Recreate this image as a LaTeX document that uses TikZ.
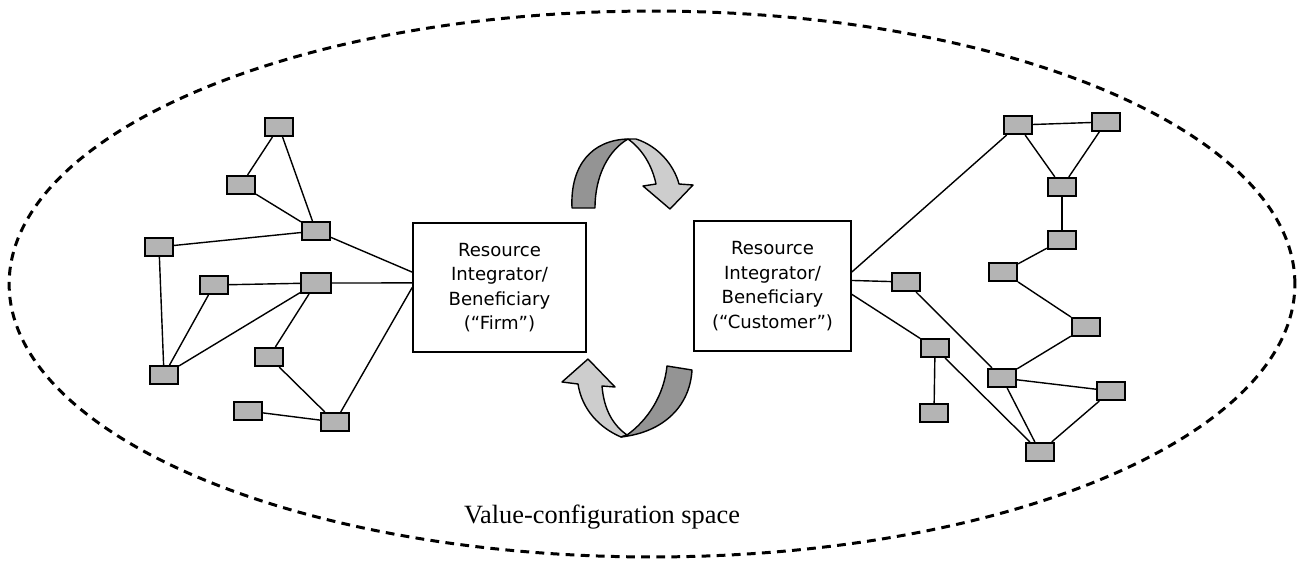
\documentclass[tikz,border=0pt]{standalone}
\usepackage{fontspec}
\setmainfont{Liberation Serif}
\newfontfamily\boxfont{DejaVu Sans}
\usetikzlibrary{positioning}
\definecolor{cellgray}{RGB}{180,180,180}
\definecolor{bandlight}{RGB}{205,205,205}
\definecolor{banddark}{RGB}{148,148,148}
\tikzset{
  cell/.style={rectangle, draw=black, fill=cellgray, line width=1.2pt,
    minimum width=0.56cm, minimum height=0.36cm, inner sep=0pt},
  actor/.style={rectangle, draw=black, line width=0.95pt, align=center,
    inner sep=0pt, font=\boxfont\fontsize{10.3}{13.9}\selectfont},
  link/.style={line width=0.8pt, color=black},
  band/.style={draw=black, line width=0.8pt, line join=round}
}

\begin{document}
\begin{tikzpicture}[x=0.02cm, y=-0.02cm]
\useasboundingbox (0,0) rectangle (1297,561);
\draw[dash pattern=on 5pt off 3.6pt, line width=1.7pt] (652,284) ellipse [x radius=12.86cm, y radius=5.46cm];

\node[actor, minimum width=3.46cm, minimum height=2.58cm] (firm) at (499.5,287.5) {Resource\\Integrator/\\Beneficiary\\(“Firm”)};
\node[actor, minimum width=3.14cm, minimum height=2.6cm] (cust) at (772.5,286) {Resource\\Integrator/\\Beneficiary\\(“Customer”)};

% firm side
\node[cell] (l1) at (279,127) {};
\node[cell] (l2) at (241,185) {};
\node[cell] (l3) at (316,231) {};
\node[cell] (l4) at (159,247) {};
\node[cell] (l5) at (214,285) {};
\node[cell, minimum width=0.6cm, minimum height=0.4cm] (l6) at (316,283) {};
\node[cell] (l7) at (269,357) {};
\node[cell] (l8) at (164,375) {};
\node[cell] (l9) at (248,411) {};
\node[cell] (l10) at (335,422) {};

\draw[link] (l1) -- (l2);
\draw[link] (l1) -- (l3);
\draw[link] (l2) -- (l3);
\draw[link] (l3) -- (firm.170);
\draw[link] (l4) -- (l3);
\draw[link] (l4) -- (l8);
\draw[link] (l5) -- (l6);
\draw[link] (l5) -- (l8);
\draw[link] (l6) -- (l8);
\draw[link] (l6) -- (firm.177);
\draw[link] (l6) -- (l7);
\draw[link] (l7) -- (l10);
\draw[link] (l9) -- (l10);
\draw[link] (l10) -- (firm.180);

% customer side
\node[cell] (r1) at (1018,125) {};
\node[cell] (r2) at (1106,122) {};
\node[cell] (r3) at (1062,187) {};
\node[cell] (r4) at (1062,240) {};
\node[cell] (r5) at (1003,272) {};
\node[cell] (r6) at (906,282) {};
\node[cell] (r7) at (1086,327) {};
\node[cell] (r8) at (935,348) {};
\node[cell] (r9) at (1002,378) {};
\node[cell] (r10) at (1111,391) {};
\node[cell] (r11) at (934,413) {};
\node[cell] (r12) at (1040,452) {};

\draw[link] (cust.10) -- (r1);
\draw[link] (cust.4) -- (r6);
\draw[link] (cust.-6) -- (r8);
\draw[link] (r1) -- (r2);
\draw[link] (r1) -- (r3);
\draw[link] (r2) -- (r3);
\draw[link] (r3) -- (r4);
\draw[link] (r4) -- (r5);
\draw[link] (r5) -- (r7);
\draw[link] (r7) -- (r9);
\draw[link] (r6) -- (r9);
\draw[link] (r9) -- (r10);
\draw[link] (r9) -- (r12);
\draw[link] (r10) -- (r12);
\draw[link] (r8) -- (r12);
\draw[link] (r8) -- (r11);

% exchange arrows
\filldraw[band, fill=banddark] (572,208) .. controls (570,165) and (592,140) .. (628,139)
  .. controls (609,150) and (595,175) .. (595,208) -- cycle;
\filldraw[band, fill=bandlight] (628,139) -- (636,139) .. controls (658,146) and (674,165) .. (679,184)
  -- (693,185) -- (670,209) -- (643,186) -- (656,184) .. controls (652,165) and (642,149) .. (628,139) -- cycle;
\filldraw[band, fill=bandlight] (562,382) -- (588,359) -- (615,387) -- (602,386)
  .. controls (604,410) and (613,425) .. (627,435) -- (621,437)
  .. controls (600,428) and (582,410) .. (578,384) -- cycle;
\filldraw[band, fill=banddark] (627,435) .. controls (648,420) and (664,395) .. (667,366)
  -- (692,370) .. controls (690,405) and (665,432) .. (621,437) -- cycle;

\node[anchor=base, font=\fontsize{15}{18}\selectfont] (space) at (602,523) {Value-configuration space};
\end{tikzpicture}
\end{document}
